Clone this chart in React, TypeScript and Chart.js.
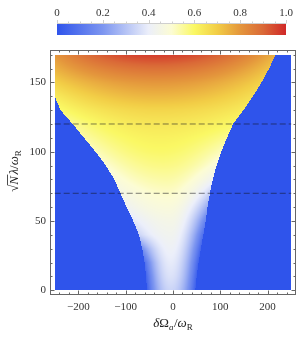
import React, { useEffect, useRef } from "react";
import { Chart, registerables } from "chart.js";
Chart.register(...registerables);

// ---- axis / tick data ----
const xTicks = [-200, -100, 0, 100, 200];
const yTicks = [0, 50, 100, 150];
const xMinorStep = 20;
const yMinorStep = 10;
const xAxisRange = [-260, 260];
const yAxisRange = [-3.4, 173.4];
const xDataRange = [-250, 250];
const yDataRange = [0, 170];

// dashed horizontal reference lines
const hLines = [120, 70];

// colour bar
const barTicks = [0, 0.2, 0.4, 0.6, 0.8, 1.0];
const barTickLabels = ["0", "0.2", "0.4", "0.6", "0.8", "1.0"];
const colorStops = [0, 0.2, 0.4, 0.5, 0.6, 0.7, 0.8, 0.9, 1.0];
const colorRGB = [
  [47, 84, 235],
  [125, 150, 240],
  [236, 239, 250],
  [252, 252, 212],
  [250, 248, 100],
  [242, 205, 70],
  [228, 150, 60],
  [218, 105, 55],
  [208, 40, 40],
];

// ---- density field ----
const rowY = [0, 10, 20, 30, 40, 50, 60, 70, 80, 90, 100, 110, 120, 130, 140, 150, 160, 170];
const rowLeft = [-55, -57, -60, -65, -72, -84, -98, -111, -124, -142, -164, -188, -212, -238, -250, -250, -250, -250];
const rowRight = [47, 50, 54, 59, 64, 69, 73, 78, 84, 92, 102, 114, 127, 149, 169, 187, 203, 217];
const rowPeak = [-5, -5, -5, -5, -5, -5, -10, -10, -15, -20, -25, -28, -30, -32, -35, -35, -35, -35];
const rowCenter = [0.34, 0.37, 0.39, 0.41, 0.43, 0.45, 0.48, 0.51, 0.54, 0.57, 0.595, 0.615, 0.64, 0.68, 0.74, 0.8, 0.88, 0.97];
const rowLeftVal = [0.04, 0.05, 0.08, 0.18, 0.34, 0.38, 0.42, 0.45, 0.48, 0.5, 0.52, 0.54, 0.56, 0.59, 0.63, 0.69, 0.75, 0.8];
const rowRightVal = [0.04, 0.04, 0.04, 0.05, 0.08, 0.14, 0.24, 0.33, 0.42, 0.48, 0.52, 0.56, 0.6, 0.63, 0.66, 0.69, 0.72, 0.75];

const SERIF = '"Liberation Serif", "DejaVu Serif", serif';

function colorFor(v: number): number[] {
  if (v <= colorStops[0]) return colorRGB[0];
  for (let i = 0; i < colorStops.length - 1; i++) {
    if (v <= colorStops[i + 1]) {
      const t = (v - colorStops[i]) / (colorStops[i + 1] - colorStops[i]);
      const a = colorRGB[i], b = colorRGB[i + 1];
      return [a[0] + (b[0] - a[0]) * t, a[1] + (b[1] - a[1]) * t, a[2] + (b[2] - a[2]) * t];
    }
  }
  return colorRGB[colorRGB.length - 1];
}

function lerp(arr: number[], i: number, t: number) {
  return arr[i] + (arr[i + 1] - arr[i]) * t;
}

function valueAt(x: number, y: number): number {
  let i = 0;
  while (i < rowY.length - 2 && y > rowY[i + 1]) i++;
  const t = Math.max(0, Math.min(1, (y - rowY[i]) / (rowY[i + 1] - rowY[i])));
  const L = lerp(rowLeft, i, t);
  const R = lerp(rowRight, i, t);
  const P = lerp(rowPeak, i, t);
  const C = lerp(rowCenter, i, t);
  const vL = lerp(rowLeftVal, i, t);
  const vR = lerp(rowRightVal, i, t);
  if (x < L || x > R) return 0;
  if (x <= P) {
    const s = (x - L) / (P - L);
    return vL + (C - vL) * (1 - (1 - s) * (1 - s));
  }
  const s = (R - x) / (R - P);
  return vR + (C - vR) * (1 - (1 - s) * (1 - s));
}

const heatmapPlugin = {
  id: "heatmap",
  beforeDatasetsDraw(chart: any) {
    const { ctx } = chart;
    const xs = chart.scales.x, ys = chart.scales.y;
    const x0 = Math.round(xs.getPixelForValue(xDataRange[0]));
    const x1 = Math.round(xs.getPixelForValue(xDataRange[1]));
    const y0 = Math.round(ys.getPixelForValue(yDataRange[1]));
    const y1 = Math.round(ys.getPixelForValue(yDataRange[0]));
    const w = x1 - x0, h = y1 - y0;
    const off = document.createElement("canvas");
    off.width = w; off.height = h;
    const octx = off.getContext("2d")!;
    const img = octx.createImageData(w, h);
    for (let py = 0; py < h; py++) {
      const yv = ys.getValueForPixel(y0 + py + 0.5);
      for (let px = 0; px < w; px++) {
        const xv = xs.getValueForPixel(x0 + px + 0.5);
        const c = colorFor(valueAt(xv, yv));
        const k = (py * w + px) * 4;
        img.data[k] = c[0]; img.data[k + 1] = c[1]; img.data[k + 2] = c[2]; img.data[k + 3] = 255;
      }
    }
    octx.putImageData(img, 0, 0);
    ctx.drawImage(off, x0, y0);
  },
  afterDraw(chart: any) {
    const { ctx, chartArea } = chart;
    const xs = chart.scales.x, ys = chart.scales.y;
    const { left, right, top, bottom } = chartArea;
    ctx.save();
    // frame
    ctx.strokeStyle = "#666";
    ctx.lineWidth = 1;
    ctx.strokeRect(left + 0.5, top + 0.5, right - left - 1, bottom - top - 1);
    // ticks
    ctx.beginPath();
    for (let v = -240; v <= 240; v += xMinorStep) {
      const p = Math.round(xs.getPixelForValue(v)) + 0.5;
      const len = xTicks.includes(v) ? 4.5 : 2.5;
      ctx.moveTo(p, bottom); ctx.lineTo(p, bottom - len);
      ctx.moveTo(p, top); ctx.lineTo(p, top + len);
    }
    for (let v = 0; v <= 170; v += yMinorStep) {
      const p = Math.round(ys.getPixelForValue(v)) + 0.5;
      const len = yTicks.includes(v) ? 4.5 : 2.5;
      ctx.moveTo(left, p); ctx.lineTo(left + len, p);
      ctx.moveTo(right, p); ctx.lineTo(right - len, p);
    }
    ctx.stroke();

    // colour bar
    const bx0 = 57, bx1 = 286, by0 = 24, by1 = 35;
    const grad = ctx.createLinearGradient(bx0, 0, bx1, 0);
    colorStops.forEach((s, i) => grad.addColorStop(s, `rgb(${colorRGB[i].join(",")})`));
    ctx.fillStyle = grad;
    ctx.fillRect(bx0, by0, bx1 - bx0, by1 - by0);
    ctx.strokeStyle = "#cfcfcf";
    ctx.beginPath();
    ctx.moveTo(bx0, by0 - 0.5); ctx.lineTo(bx1, by0 - 0.5);
    for (let v = 0; v <= 1.0001; v += 0.05) {
      const p = Math.round(bx0 + (bx1 - bx0) * v) + 0.5;
      const major = Math.abs(v * 5 - Math.round(v * 5)) < 1e-6;
      ctx.moveTo(p, by0 - 0.5); ctx.lineTo(p, by0 - (major ? 4 : 2.5));
    }
    ctx.stroke();
    ctx.fillStyle = "#333";
    ctx.font = `11px ${SERIF}`;
    ctx.textAlign = "center";
    ctx.textBaseline = "alphabetic";
    barTicks.forEach((v, i) => {
      ctx.fillText(barTickLabels[i], bx0 + (bx1 - bx0) * v, 16);
    });

    // axis titles
    const drawPieces = (pieces: any[], cx: number, base: number) => {
      let total = 0;
      const widths = pieces.map((p) => {
        ctx.font = `${p.italic ? "italic " : ""}${p.size}px ${SERIF}`;
        const w = ctx.measureText(p.text).width + (p.gap || 0);
        total += w;
        return w;
      });
      let x = cx - total / 2;
      ctx.textAlign = "left";
      let rootTop = base - 11;
      pieces.forEach((p, i) => {
        ctx.font = `${p.italic ? "italic " : ""}${p.size}px ${SERIF}`;
        ctx.fillText(p.text, x, base + (p.dy || 0));
        if (p.root) {
          const m = ctx.measureText(p.text);
          rootTop = base - (m.actualBoundingBoxAscent || p.size * 0.85);
        }
        if (p.overline) {
          ctx.fillRect(x - 0.5, rootTop, widths[i] + 0.5, 0.8);
        }
        x += widths[i];
      });
    };
    ctx.fillStyle = "#222";
    drawPieces(
      [
        { text: "δ", size: 13, italic: true },
        { text: "Ω", size: 13 },
        { text: "a", size: 9, italic: true, dy: 3, gap: 0.5 },
        { text: "/", size: 13 },
        { text: "ω", size: 13, italic: true },
        { text: "R", size: 9, dy: 3 },
      ],
      173,
      327
    );
    ctx.translate(14, 171);
    ctx.rotate(-Math.PI / 2);
    drawPieces(
      [
        { text: "√", size: 13, root: true },
        { text: "N", size: 13, italic: true, overline: true, gap: 1.5 },
        { text: "λ", size: 13, italic: true },
        { text: "/", size: 13 },
        { text: "ω", size: 13, italic: true },
        { text: "R", size: 9, dy: 3 },
      ],
      0,
      4
    );
    ctx.restore();
  },
};

export default function App() {
  const ref = useRef<HTMLCanvasElement | null>(null);
  useEffect(() => {
    if (!ref.current) return;
    const lineDatasets = hLines.map((v) => ({
      data: [
        { x: xDataRange[0], y: v },
        { x: xDataRange[1], y: v },
      ],
      borderColor: "rgba(20,20,30,0.55)",
      borderWidth: 1,
      borderDash: [6, 3],
      pointRadius: 0,
      fill: false,
    }));
    const chart = new Chart(ref.current, {
      type: "line",
      data: { datasets: lineDatasets as any },
      options: {
        animation: false,
        responsive: false,
        layout: { padding: { left: 0, top: 50, right: 3, bottom: 0 } },
        plugins: { legend: { display: false }, tooltip: { enabled: false } },
        scales: {
          x: {
            type: "linear",
            min: xAxisRange[0],
            max: xAxisRange[1],
            grid: { display: false, drawTicks: false },
            border: { display: false },
            afterBuildTicks: (s: any) => { s.ticks = xTicks.map((v) => ({ value: v })); },
            afterFit: (s: any) => { s.height = 44; },
            ticks: {
              padding: 6,
              color: "#333",
              font: { family: SERIF, size: 11 },
              maxRotation: 0,
              callback: (v: any) => (Number(v) < 0 ? "\u2212" + Math.abs(Number(v)) : String(v)),
            },
          },
          y: {
            type: "linear",
            min: yAxisRange[0],
            max: yAxisRange[1],
            grid: { display: false, drawTicks: false },
            border: { display: false },
            afterBuildTicks: (s: any) => { s.ticks = yTicks.map((v) => ({ value: v })); },
            afterFit: (s: any) => { s.width = 50; },
            ticks: {
              padding: 4,
              color: "#333",
              font: { family: SERIF, size: 11 },
              callback: (v: any) => String(v),
            },
          },
        },
      },
      plugins: [heatmapPlugin],
    });
    return () => chart.destroy();
  }, []);
  return (
    <div style={{ position: "fixed", left: 0, top: 0, width: 299, height: 339, background: "#fff" }}>
      <canvas ref={ref} width={299} height={339} />
    </div>
  );
}
